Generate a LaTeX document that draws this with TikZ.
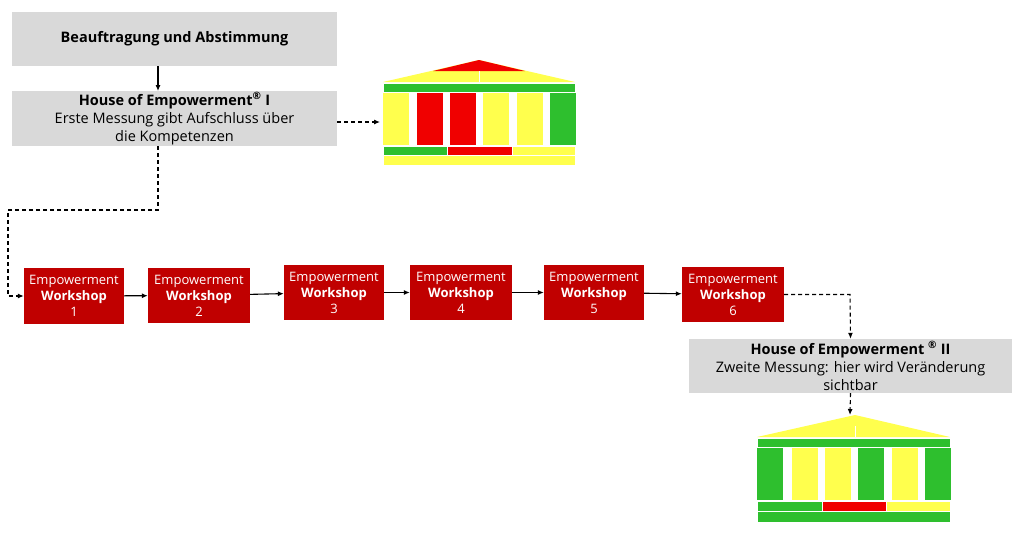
\documentclass[tikz,border=0pt]{standalone}
\usepackage{fontspec}
\setmainfont{Open Sans}
\usetikzlibrary{arrows.meta}
\definecolor{gb}{HTML}{D9D9D9}
\definecolor{wr}{HTML}{C00000}
\definecolor{hy}{HTML}{FFFF4D}
\definecolor{hg}{HTML}{2EBF2E}
\definecolor{hr}{HTML}{F00000}
\begin{document}
\begin{tikzpicture}[x=1pt,y=-1pt,
 gray/.style={fill=gb,draw=none,inner sep=0,align=center,font=\fontsize{14.5}{18}\selectfont},
 ws/.style={fill=wr,draw=none,inner sep=0,align=center,text=white,font=\fontsize{13}{16}\selectfont},
 arr/.style={-{Latex[length=6pt,width=5pt]},line width=1.1pt},
 dar/.style={arr,dash pattern=on 4pt off 3pt},
 hb/.style={draw=white,line width=0.6pt}]
\useasboundingbox (0,0) rectangle (1024,538);
\node[gray,minimum width=325,minimum height=54] (b1) at (174.5,39) {\textbf{Beauftragung und Abstimmung}};
\node[gray,minimum width=325,minimum height=55] (b2) at (174.5,118.5) {\textbf{House of Empowerment\textsuperscript{®} I}\\Erste Messung gibt Aufschluss über\\die Kompetenzen};
\node[gray,minimum width=323,minimum height=54] (b3) at (850.5,366) {\textbf{House of Empowerment \textsuperscript{®} II}\\Zweite Messung: hier wird Veränderung\\sichtbar};
\foreach \n/\x/\y/\w/\h in {1/74/296/100/56,2/199/295.5/102/55,3/334/292.5/100/55,4/461/292.5/102/55,5/594/292.5/100/55,6/733/294.5/102/55}{
 \node[ws,minimum width=\w,minimum height=\h] (w\n) at (\x,\y) {Empowerment\\\textbf{Workshop}\\\n};}
\coordinate (h1) at (380,122);
\coordinate (h2) at (850,415);
\draw[arr] (158,66) -- (158,91);
\draw[dar] (b2.east |- h1) -- (h1);
\draw[dar] (158,146) -- (158,210) -- (8,210) -- (8,296) -- (w1.west);
\draw[arr] (w1) -- (w2); \draw[arr] (w2) -- (w3); \draw[arr] (w3) -- (w4);
\draw[arr] (w4) -- (w5); \draw[arr] (w5) -- (w6);
\draw[dar] (w6.east) -- (850,294.5) -- (b3.north);
\draw[dar] (b3.south) -- (h2);
% house 1
\fill[hy] (383,82) -- (479,60) -- (575,82) -- cycle;
\fill[hr] (433,71) -- (479,60) -- (525,71) -- cycle;
\draw[white,line width=0.5pt] (479,71) -- (479,82);
\fill[hg,hb] (383,83) rectangle (575,92);
\foreach \a/\c in {383/hy,417/hr,450/hr,483/hy,517/hy,550/hg}{\fill[\c] (\a,93) rectangle ++(26,52);}
\fill[hg,hb] (383,146) rectangle (447,155);
\fill[hr,hb] (447,146) rectangle (512,155);
\fill[hy,hb] (512,146) rectangle (575,155);
\fill[hy,hb] (383,155) rectangle (575,165);
% house 2
\fill[hy] (757,437) -- (855,415) -- (950,437) -- cycle;
\draw[white,line width=0.5pt] (855,426) -- (855,437);
\fill[hg,hb] (757,438) rectangle (950,447);
\foreach \a/\c in {757/hg,792/hy,825/hy,858/hg,892/hy,925/hg}{\fill[\c] (\a,448) rectangle ++(26,52);}
\fill[hg,hb] (757,501) rectangle (822,511);
\fill[hr,hb] (822,501) rectangle (886,511);
\fill[hy,hb] (886,501) rectangle (950,511);
\fill[hg,hb] (757,511) rectangle (950,522);
\end{tikzpicture}
\end{document}
